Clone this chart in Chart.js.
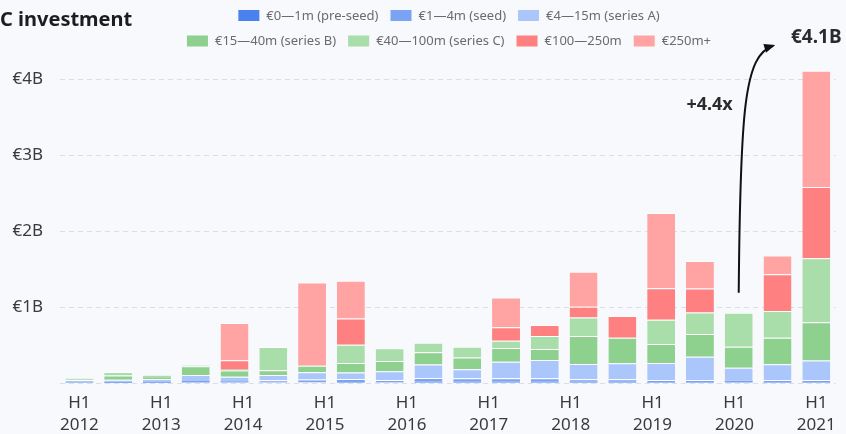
<!DOCTYPE html>
<html>
<head>
<meta charset="utf-8">
<script src="https://cdn.jsdelivr.net/npm/chart.js@4/dist/chart.umd.min.js"></script>
<style>
  html, body { margin: 0; padding: 0; background: #f7f9fc; }
  #wrap { width: 846px; height: 434px; position: relative; }
  canvas { display: block; }
</style>
</head>
<body>
<div id="wrap"><canvas id="vc" width="846" height="434"></canvas></div>
<script>
// Half-year periods, oldest first (amounts in € millions)
const periods = [
  'H2 2011', 'H1 2012', 'H2 2012', 'H1 2013', 'H2 2013', 'H1 2014', 'H2 2014',
  'H1 2015', 'H2 2015', 'H1 2016', 'H2 2016', 'H1 2017', 'H2 2017', 'H1 2018',
  'H2 2018', 'H1 2019', 'H2 2019', 'H1 2020', 'H2 2020', 'H1 2021'
];

// Axis labels along the bottom
const tickLabels = [
  ['H1', '2012'], ['H1', '2013'], ['H1', '2014'], ['H1', '2015'], ['H1', '2016'],
  ['H1', '2017'], ['H1', '2018'], ['H1', '2019'], ['H1', '2020'], ['H1', '2021']
];

// Round-size buckets
const preSeed  = [2, 4, 3, 8, 8, 10, 8, 12, 11, 16, 18, 18, 18, 15, 15, 13, 12, 10, 12, 12];
const seed     = [6, 10, 10, 18, 15, 25, 38, 40, 30, 51, 45, 45, 45, 35, 35, 28, 26, 18, 26, 26];
const seriesA  = [32, 30, 40, 80, 60, 70, 95, 85, 113, 175, 118, 218, 240, 201, 210, 223, 306, 172, 209, 259];
const seriesB  = [4, 55, 12, 115, 80, 62, 85, 127, 137, 162, 154, 179, 145, 369, 334, 250, 301, 276, 347, 502];
const seriesC  = [22, 45, 42, 5, 10, 308, 0, 238, 166, 127, 143, 97, 171, 243, 0, 317, 284, 449, 355, 842];
const growth   = [0, 0, 0, 0, 125, 0, 0, 348, 0, 0, 0, 176, 145, 141, 288, 417, 314, 0, 482, 937];
const mega     = [0, 0, 0, 0, 490, 0, 1097, 495, 0, 0, 0, 393, 0, 460, 0, 988, 361, 0, 247, 1531];

const bucketNames = [
  '€0—1m (pre-seed)', '€1—4m (seed)', '€4—15m (series A)',
  '€15—40m (series B)', '€40—100m (series C)', '€100—250m', '€250m+'
];
const bucketColors = ['#4b81ef', '#7aa3f4', '#abc6fb', '#8ed08e', '#a9dda9', '#ff8080', '#ffa3a3'];
const bucketValues = [preSeed, seed, seriesA, seriesB, seriesC, growth, mega];

// Year-on-year comparison shown by the arrow
const fromIndex = 17;   // H1 2020
const toIndex = 19;     // H1 2021
const growthLabel = '+4.4x';
const totalLabel = '€4.1B';

const FONT = '"Noto Sans", "DejaVu Sans", sans-serif';

const totals = periods.map((_, i) => bucketValues.reduce((s, arr) => s + arr[i], 0));

// Legend in two centred rows, title and arrow callout
const overlay = {
  id: 'overlay',
  afterDraw(chart) {
    const ctx = chart.ctx;
    const xs = chart.scales.x, ys = chart.scales.y;
    ctx.save();

    // Title
    ctx.fillStyle = '#1d1d1f';
    ctx.font = 'bold 20px ' + FONT;
    ctx.textBaseline = 'middle';
    ctx.textAlign = 'left';
    ctx.fillText('C investment', 0, 20);

    // Legend
    const rows = [[0, 1, 2], [3, 4, 5, 6]];
    const rowY = [15.5, 41];
    const boxW = 21, boxH = 11, gap = 7, itemGap = 12;
    const centerX = 449;
    ctx.font = '13px ' + FONT;
    rows.forEach((row, r) => {
      const widths = row.map(i => boxW + gap + ctx.measureText(bucketNames[i]).width);
      const total = widths.reduce((a, b) => a + b, 0) + itemGap * (row.length - 1);
      let x = centerX - total / 2;
      row.forEach((i, k) => {
        ctx.fillStyle = bucketColors[i];
        ctx.fillRect(x, rowY[r] - boxH / 2, boxW, boxH);
        ctx.fillStyle = '#6b6b6b';
        ctx.textAlign = 'left';
        ctx.fillText(bucketNames[i], x + boxW + gap, rowY[r] + 0.5);
        x += widths[k] + itemGap;
      });
    });

    // Arrow from the H1 2020 bar up to the H1 2021 total
    const x0 = xs.getPixelForValue(fromIndex);
    const y0 = ys.getPixelForValue(totals[fromIndex]) - 20;
    const x3 = xs.getPixelForValue(toIndex) - 43;
    const y3 = ys.getPixelForValue(totals[toIndex]) - 25;
    const c1 = { x: x0 + 1.5, y: 110 };
    const c2 = { x: x0 + 5.5, y: y3 + 9 };
    ctx.strokeStyle = '#111';
    ctx.lineWidth = 2;
    ctx.beginPath();
    ctx.moveTo(x0, y0);
    ctx.bezierCurveTo(c1.x, c1.y, c2.x, c2.y, x3, y3);
    ctx.stroke();
    const ang = Math.atan2(y3 - c2.y, x3 - c2.x);
    const L = 9, W = 4.5;
    ctx.fillStyle = '#111';
    ctx.beginPath();
    ctx.moveTo(x3 + Math.cos(ang) * 2, y3 + Math.sin(ang) * 2);
    ctx.lineTo(x3 - Math.cos(ang) * L + Math.sin(ang) * W, y3 - Math.sin(ang) * L - Math.cos(ang) * W);
    ctx.lineTo(x3 - Math.cos(ang) * L - Math.sin(ang) * W, y3 - Math.sin(ang) * L + Math.cos(ang) * W);
    ctx.closePath();
    ctx.fill();

    // Callout texts
    ctx.fillStyle = '#2b2b2b';
    ctx.font = 'bold 19px ' + FONT;
    ctx.textAlign = 'center';
    ctx.fillText(totalLabel, xs.getPixelForValue(toIndex), ys.getPixelForValue(totals[toIndex]) - 33);
    ctx.font = 'bold 18px ' + FONT;
    ctx.textAlign = 'right';
    ctx.fillText(growthLabel, x0 - 6, 105);

    ctx.restore();
  }
};

// Thin white separator on top of each segment, skipped for the slimmest ones
const separator = c => {
  const v = c.raw || 0;
  const top = (c.datasetIndex === 0 || v < 20) ? 0 : 1;
  return { top, left: 0, right: 0, bottom: 0 };
};

const datasets = bucketNames.map((name, i) => ({
  label: name,
  data: bucketValues[i],
  backgroundColor: bucketColors[i],
  borderColor: 'rgba(255,255,255,0.8)',
  borderWidth: separator,
  borderSkipped: false,
  categoryPercentage: 1,
  barPercentage: 0.72
}));

new Chart(document.getElementById('vc'), {
  type: 'bar',
  data: { labels: periods, datasets },
  options: {
    responsive: false,
    devicePixelRatio: 1,
    animation: false,
    layout: { padding: { top: 60, right: 10, left: 0, bottom: 0 } },
    plugins: { legend: { display: false }, tooltip: { enabled: false } },
    scales: {
      x: { type: 'category', stacked: true, display: false, offset: true },
      xt: {
        type: 'linear',
        position: 'bottom',
        offset: false,
        min: -0.5,
        max: periods.length - 0.5,
        grid: { display: false, drawTicks: false },
        border: { display: false },
        afterBuildTicks(scale) {
          const span = periods.length - 1;
          scale.ticks = tickLabels.map((_, k) => ({ value: k * span / (tickLabels.length - 1) }));
        },
        afterFit(scale) { scale.height = 51; },
        ticks: {
          autoSkip: false,
          maxRotation: 0,
          padding: 10,
          color: '#3a3a3a',
          font: { family: FONT, size: 17, lineHeight: 1.25 },
          callback: (v, i) => tickLabels[i]
        }
      },
      y: {
        stacked: true,
        min: 0,
        max: 4250,
        afterBuildTicks(scale) {
          scale.ticks = [0, 1000, 2000, 3000, 4000].map(v => ({ value: v }));
        },
        afterFit(scale) { scale.width = 60; },
        grid: { color: '#dcdfe5', lineWidth: 1, drawTicks: false },
        border: { display: false, dash: [5, 4] },
        ticks: {
          padding: 17,
          color: '#3a3a3a',
          font: { family: FONT, size: 17 },
          callback: v => (v === 0 ? '' : '€' + v / 1000 + 'B')
        }
      }
    }
  },
  plugins: [overlay]
});
</script>
</body>
</html>
